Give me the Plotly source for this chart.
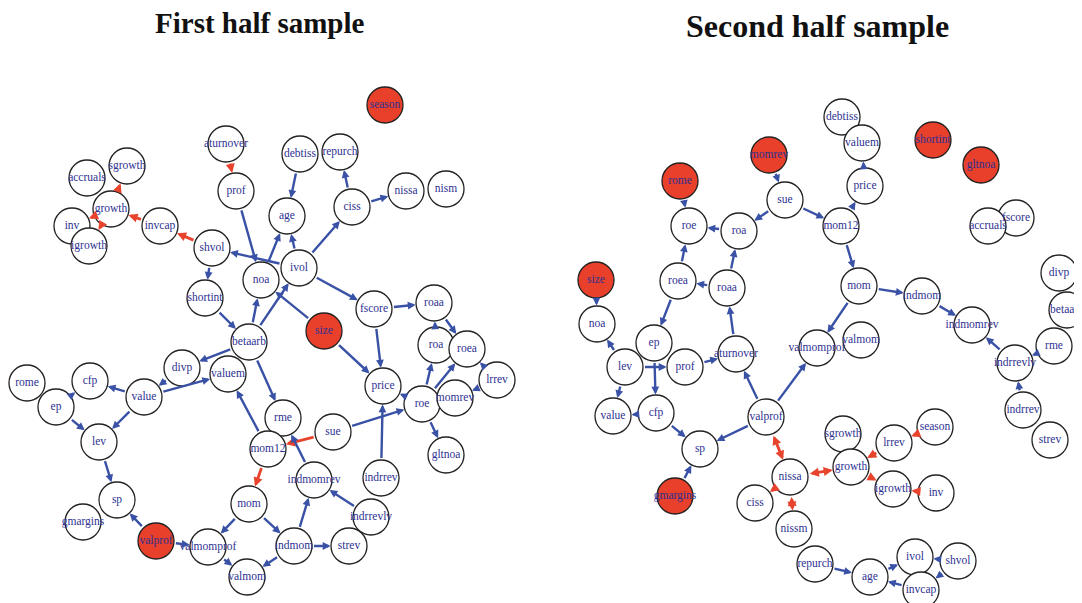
import math
import plotly.graph_objects as go

# ---------------- data: first half sample ----------------
left_nodes = ["season", "aturnover", "prof", "debtiss", "repurch", "nissa", "nism", "ciss", "age",
              "accruals", "sgrowth", "growth", "inv", "igrowth", "invcap", "shvol", "ivol", "noa",
              "shortint", "size", "fscore", "roaa", "roa", "roea", "betaarb", "divp", "valuem",
              "price", "roe", "momrev", "lrrev", "rome", "cfp", "ep", "value", "lev", "rme", "sue",
              "mom12", "gltnoa", "indrrev", "indmomrev", "indrrevlv", "sp", "gmargins", "mom",
              "valprof", "valmomprof", "indmom", "strev", "valmom"]
left_x = [385, 226, 236, 300, 340, 406, 446, 352, 287,
          87, 127, 111, 72, 89, 160, 212, 299, 261,
          205, 324, 374, 434, 436, 467, 249, 182, 228,
          383, 422, 455, 497, 27, 90, 56, 144, 99, 283, 333,
          268, 446, 381, 314, 371, 117, 83, 249,
          156, 208, 294, 349, 247]
left_y = [105, 144, 191, 154, 152, 191, 189, 207, 216,
          178, 166, 209, 226, 246, 226, 248, 268, 280,
          298, 331, 309, 303, 345, 349, 342, 368, 374,
          386, 404, 398, 380, 383, 381, 407, 397, 442, 418, 432,
          449, 455, 478, 480, 517, 500, 522, 504,
          541, 547, 546, 546, 577]
left_red_nodes = ["season", "size", "valprof"]
left_edges = [
    ("aturnover", "prof", "r"), ("growth", "accruals", "r"), ("growth", "sgrowth", "r"),
    ("growth", "inv", "r"), ("growth", "igrowth", "r"), ("invcap", "growth", "r"),
    ("shvol", "invcap", "r"), ("sue", "mom12", "r"), ("mom12", "mom", "r"),
    ("prof", "noa", "b"), ("debtiss", "age", "b"), ("ciss", "repurch", "b"),
    ("repurch", "debtiss", "b"), ("ciss", "nissa", "b"), ("nism", "nissa", "b"),
    ("ivol", "ciss", "b"), ("ivol", "age", "b"), ("noa", "age", "b"), ("ivol", "shvol", "b"),
    ("shvol", "shortint", "b"), ("ivol", "fscore", "b"), ("shortint", "betaarb", "b"),
    ("betaarb", "noa", "b"), ("betaarb", "ivol", "b"), ("size", "noa", "b"),
    ("size", "price", "b"), ("fscore", "roaa", "b"), ("fscore", "price", "b"),
    ("roa", "roaa", "b"), ("roaa", "roea", "b"), ("roe", "roa", "b"), ("roe", "roea", "b"),
    ("lrrev", "roea", "b"), ("lrrev", "momrev", "b"), ("roe", "price", "b"),
    ("roe", "gltnoa", "b"), ("sue", "roe", "b"), ("indrrev", "price", "b"),
    ("valuem", "betaarb", "b"), ("betaarb", "divp", "b"), ("divp", "value", "b"),
    ("value", "valuem", "b"), ("value", "cfp", "b"), ("ep", "cfp", "b"), ("ep", "lev", "b"),
    ("value", "lev", "b"), ("betaarb", "rme", "b"), ("mom12", "valuem", "b"),
    ("indmomrev", "rme", "b"), ("lev", "sp", "b"), ("sp", "gmargins", "b"),
    ("valprof", "sp", "b"), ("valprof", "valmomprof", "b"), ("mom", "valmomprof", "b"),
    ("mom", "indmom", "b"), ("valmomprof", "valmom", "b"), ("indmom", "valmom", "b"),
    ("indmom", "indmomrev", "b"), ("indmom", "strev", "b"), ("indrrevlv", "indmomrev", "b"),
    ("indrrevlv", "strev", "b"),
]

# ---------------- data: second half sample ----------------
right_nodes = ["debtiss", "valuem", "shortint", "gltnoa", "momrev", "rome", "price", "sue", "mom12",
               "roe", "roa", "fscore", "accruals", "size", "roea", "roaa", "mom", "indmom", "divp",
               "betaarb", "noa", "ep", "indmomrev", "valmom", "valmomprof", "rme", "lev", "prof",
               "aturnover", "indrrevlv", "value", "cfp", "valprof", "indrrev", "strev", "season",
               "sgrowth", "lrrev", "sp", "nissa", "growth", "igrowth", "inv", "gmargins", "ciss",
               "nissm", "ivol", "shvol", "repurch", "age", "invcap"]
right_x = [842, 862, 933, 981, 769, 680, 865, 785, 841,
           689, 739, 1016, 988, 596, 678, 727, 859, 922, 1059,
           1067, 597, 654, 972, 861, 817, 1054, 625, 685,
           736, 1015, 613, 656, 766, 1023, 1050, 935,
           843, 894, 700, 790, 851, 893, 936, 675, 755,
           794, 915, 958, 815, 870, 921]
right_y = [117, 143, 140, 165, 155, 181, 186, 200, 226,
           226, 231, 218, 226, 280, 281, 288, 286, 296, 273,
           310, 324, 343, 325, 340, 348, 346, 367, 367,
           354, 363, 416, 413, 417, 410, 440, 427,
           434, 443, 449, 477, 467, 489, 493, 496, 503,
           529, 557, 561, 564, 577, 590]
right_red_nodes = ["shortint", "gltnoa", "momrev", "rome", "size", "gmargins"]
right_edges = [
    ("momrev", "sue", "b"), ("sue", "roa", "b"), ("sue", "mom12", "b"), ("roa", "roe", "b"),
    ("rome", "roe", "b"), ("roea", "roe", "b"), ("roaa", "roea", "b"), ("roaa", "roa", "b"),
    ("mom12", "price", "b"), ("price", "valuem", "b"), ("mom12", "mom", "b"),
    ("mom", "indmom", "b"), ("mom", "valmomprof", "b"), ("indmom", "indmomrev", "b"),
    ("indrrevlv", "indmomrev", "b"), ("rme", "indrrevlv", "b"), ("rme", "betaarb", "b"),
    ("indrrev", "indrrevlv", "b"), ("size", "noa", "b"), ("lev", "noa", "b"),
    ("roea", "ep", "b"), ("lev", "prof", "b"), ("ep", "cfp", "b"), ("lev", "value", "b"),
    ("cfp", "value", "b"), ("prof", "aturnover", "b"), ("aturnover", "roaa", "b"),
    ("valprof", "aturnover", "b"), ("valprof", "valmomprof", "b"), ("valprof", "sp", "b"),
    ("cfp", "sp", "b"), ("gmargins", "sp", "b"), ("repurch", "age", "b"), ("age", "ivol", "b"),
    ("invcap", "age", "b"), ("shvol", "ivol", "b"), ("shvol", "invcap", "b"),
    ("valprof", "nissa", "r2"), ("nissa", "growth", "r2"), ("nissa", "ciss", "r"),
    ("nissa", "nissm", "r2"), ("nissm", "repurch", "r"), ("lrrev", "growth", "r"),
    ("season", "lrrev", "r"), ("growth", "igrowth", "r"), ("inv", "igrowth", "r"),
]

titles = ["First half sample", "Second half sample"]
title_x = [260, 817]
title_y = [23, 26]
title_size = [29, 32]

# ---------------- styles ----------------
R = 18
BLUE = "#3a52a6"
RED = "#e8432d"
NODE_RED = "#e8402a"
TXT = "#2e3192"
FONT = "Liberation Serif"
OFF = 8  # page body margin of the html page

fig = go.Figure()
annotations = []


def add_panel(nodes, xs, ys, reds, edges):
    pos = {n: (x, y) for n, x, y in zip(nodes, xs, ys)}
    for s, t, c in edges:
        x0, y0 = pos[s]
        x1, y1 = pos[t]
        col = BLUE if c == "b" else RED
        annotations.append(dict(
            x=x1, y=y1, ax=x0, ay=y0, xref="x", yref="y", axref="x", ayref="y",
            showarrow=True, text="", arrowhead=2, arrowsize=0.65,
            arrowwidth=2.4 if c == "b" else 2.8, arrowcolor=col,
            arrowside="end+start" if c == "r2" else "end",
            standoff=R + 0.5, startstandoff=R + 0.5,
        ))
    fills = [NODE_RED if n in reds else "white" for n in nodes]
    fig.add_trace(go.Scatter(
        x=xs, y=ys, mode="markers+text",
        text=nodes,
        textposition="middle center",
        textfont=dict(family=FONT, size=11.5, color=TXT),
        marker=dict(size=2 * R, color=fills, line=dict(color="#222222", width=1.3)),
        hoverinfo="text", showlegend=False, cliponaxis=False,
    ))


add_panel(left_nodes, left_x, left_y, left_red_nodes, left_edges)
add_panel(right_nodes, right_x, right_y, right_red_nodes, right_edges)

for t, x, y, s in zip(titles, title_x, title_y, title_size):
    annotations.append(dict(x=x, y=y, xref="x", yref="y", text="<b>%s</b>" % t, showarrow=False,
                            font=dict(family=FONT, size=s, color="#111111"),
                            xanchor="center", yanchor="middle"))

fig.update_layout(
    width=1082 - OFF, height=603 - OFF, margin=dict(l=0, r=0, t=0, b=0),
    paper_bgcolor="white", plot_bgcolor="white",
    xaxis=dict(range=[OFF, 1082], visible=False, fixedrange=True),
    yaxis=dict(range=[603, OFF], visible=False, fixedrange=True),
    annotations=annotations, showlegend=False,
)

fig.write_html("out.html")
